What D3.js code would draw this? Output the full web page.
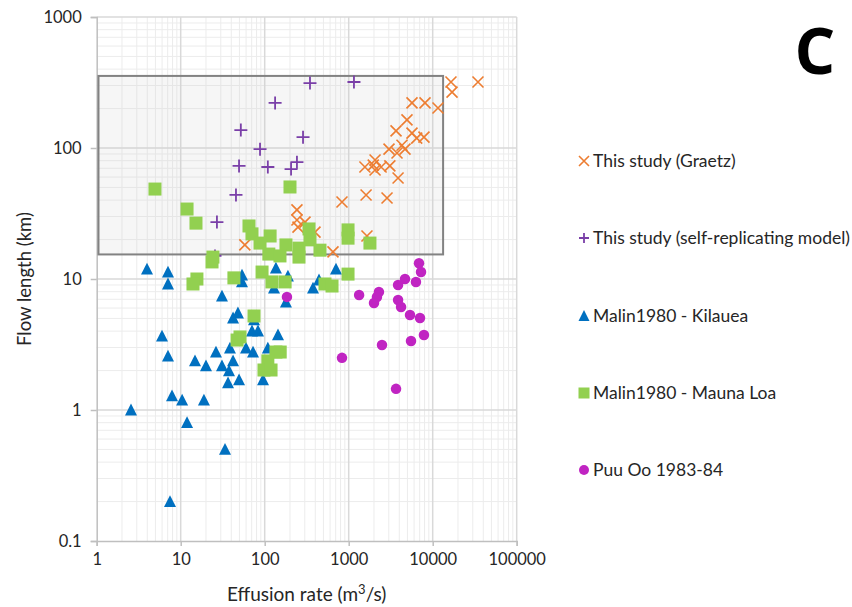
<!DOCTYPE html>
<html>
<head>
<meta charset="utf-8">
<script src="https://cdn.jsdelivr.net/npm/d3@7"></script>
<style>
  html, body { margin: 0; padding: 0; background: #ffffff; }
  svg { display: block; font-family: Lato, "Open Sans", sans-serif; }
</style>
</head>
<body>
<svg id="chart" width="852" height="607"></svg>
<script>
// Effusion rate (m^3/s) vs flow length (km), log-log.
const xTickValues = [1, 10, 100, 1000, 10000, 100000];
const xTickLabels = ["1", "10", "100", "1000", "10000", "100000"];
const yTickValues = [0.1, 1, 10, 100, 1000];
const yTickLabels = ["0.1", "1", "10", "100", "1000"];

// Shaded range of the study runs: [effusion min, max], [length min, max]
const studyBoxX = [1.05, 13300];
const studyBoxY = [15.4, 355];

// [effusion rate, flow length]
const graetz = [
  [16500, 319], [34600, 319], [17000, 267], [5670, 221], [8100, 221], [11560, 202],
  [4940, 164], [3660, 135], [5670, 130], [7870, 121], [6450, 119], [4310, 105],
  [3020, 98], [4680, 98], [3760, 91.6], [2060, 81], [1560, 71.6], [2430, 71.6],
  [3090, 73], [1960, 74], [2060, 68], [3870, 59], [832, 38.7], [1610, 43.8],
  [2860, 41.5], [242, 33.7], [242, 28.2], [302, 27.2], [249, 24.9], [397, 22.8],
  [1650, 21.3], [650, 16.1], [58, 18.2]
];
const selfReplicating = [
  [346, 313], [1155, 319], [133, 221], [52, 137], [286, 121], [88, 98],
  [49.5, 73], [109, 71.6], [242, 78], [206, 69], [45.5, 43.8], [27, 27.2], [25.6, 15]
];
const kilauea = [
  [3.97, 11.9], [7.06, 11.3], [7.06, 9.16], [31, 7.41], [5.99, 3.67], [7.06, 2.58],
  [14.8, 2.37], [20, 2.17], [26.3, 2.77], [31, 2.17], [7.88, 1.28], [10.4, 1.19],
  [18.9, 1.19], [2.56, 1.0], [11.9, 0.8], [33.7, 0.5], [7.46, 0.2], [53.7, 10.7],
  [53.7, 9.5], [136, 12.1], [189, 10.5], [129, 8.53], [179, 6.67], [376, 8.53],
  [443, 9.83], [706, 11.9], [48, 5.5], [42, 5.04], [74.6, 4.87], [70.6, 4.01],
  [83.3, 4.01], [144, 3.74], [38.6, 2.97], [59.9, 2.97], [72.6, 2.77], [109, 2.97],
  [42, 2.37], [37.6, 1.99], [49.5, 1.7], [36.6, 1.61], [95.5, 1.7]
];
const maunaLoa = [
  [4.94, 48.6], [11.9, 34.2], [15.2, 26.7], [200, 50.4], [65, 25.4], [70.6, 22.1],
  [116, 21.3], [88, 18.8], [179, 18.2], [337, 24.1], [346, 19.9], [256, 17.2],
  [455, 16.6], [112, 15.5], [152, 15.0], [256, 14.7], [24.2, 14.7], [23.6, 13.5],
  [982, 23.7], [982, 20.5], [1790, 18.8], [982, 10.9], [522, 9.16], [633, 8.84],
  [93, 11.3], [43, 10.2], [122, 9.5], [175, 9.5], [15.6, 10], [14, 9.16],
  [74.6, 5.22], [50.8, 3.61], [46.9, 3.42], [136, 2.77], [153, 2.77], [109, 2.37],
  [98, 2.02], [119, 2.02]
];
const puuOo = [
  [6870, 13.2], [7260, 11.3], [4680, 10], [6320, 9.5], [3870, 9.0], [1330, 7.55],
  [2290, 7.96], [2170, 7.29], [2000, 6.56], [3870, 6.92], [4200, 6.11], [5370, 5.31],
  [7060, 5.04], [7870, 3.74], [5520, 3.36], [2490, 3.13], [832, 2.5], [3660, 1.45],
  [184, 7.3]
];

const seriesNames = [
  "This study (Graetz)",
  "This study (self-replicating model)",
  "Malin1980 - Kilauea",
  "Malin1980 - Mauna Loa",
  "Puu Oo 1983-84"
];
const seriesColors = ["#ed7d31", "#7a3fa8", "#0070c0", "#92d050", "#c024c2"];
const seriesShapes = ["cross", "plus", "triangle", "square", "circle"];
const seriesData = [graetz, selfReplicating, kilauea, maunaLoa, puuOo];

const svg = d3.select("#chart");
const plot = { left: 96.7, right: 516.7, top: 17, bottom: 541 };

const x = d3.scaleLog().domain([1, 100000]).range([plot.left, plot.right]);
const y = d3.scaleLog().domain([0.1, 1000]).range([plot.bottom, plot.top]);

// Minor and major grid lines
function gridValues(lo, hi) {
  const minor = [], major = [];
  for (let d = lo; d < hi; d *= 10) {
    major.push(d);
    for (let k = 2; k <= 9; k++) minor.push(d * k);
  }
  major.push(hi);
  return { minor, major };
}
const gx = gridValues(1, 100000);
const gy = gridValues(0.1, 1000);
const grid = svg.append("g");
grid.selectAll(".vmin").data(gx.minor).join("line")
  .attr("x1", d => x(d)).attr("x2", d => x(d))
  .attr("y1", plot.top).attr("y2", plot.bottom)
  .attr("stroke", "#ececec").attr("stroke-width", 1);
grid.selectAll(".hmin").data(gy.minor).join("line")
  .attr("x1", plot.left).attr("x2", plot.right)
  .attr("y1", d => y(d)).attr("y2", d => y(d))
  .attr("stroke", "#ececec").attr("stroke-width", 1);
grid.selectAll(".vmaj").data(gx.major.slice(1)).join("line")
  .attr("x1", d => x(d)).attr("x2", d => x(d))
  .attr("y1", plot.top).attr("y2", plot.bottom)
  .attr("stroke", "#d9d9d9").attr("stroke-width", 1.5);
grid.selectAll(".hmaj").data(gy.major.slice(1)).join("line")
  .attr("x1", plot.left).attr("x2", plot.right)
  .attr("y1", d => y(d)).attr("y2", d => y(d))
  .attr("stroke", "#d9d9d9").attr("stroke-width", 1.5);

// Axes
const xAxis = d3.axisBottom(x).tickValues(xTickValues)
  .tickFormat((d, i) => xTickLabels[i]).tickSize(5).tickPadding(7);
const yAxis = d3.axisLeft(y).tickValues(yTickValues)
  .tickFormat((d, i) => yTickLabels[i]).tickSize(6).tickPadding(9);

const gxA = svg.append("g").attr("transform", `translate(0,${plot.bottom})`).call(xAxis);
const gyA = svg.append("g").attr("transform", `translate(${plot.left},0)`).call(yAxis);
[gxA, gyA].forEach(g => {
  g.select(".domain").attr("stroke", "#bfbfbf").attr("stroke-width", 1.5);
  g.selectAll(".tick line").attr("stroke", "#bfbfbf").attr("stroke-width", 1.5);
  g.selectAll(".tick text").attr("fill", "#262626")
    .style("font-family", "Lato, 'Open Sans', sans-serif").style("font-size", "16.5px");
});

// Axis titles
svg.append("text")
  .attr("x", (plot.left + plot.right) / 2).attr("y", 601)
  .attr("text-anchor", "middle").attr("fill", "#262626")
  .style("font-size", "19px")
  .html('Effusion rate (m<tspan dy="-7" font-size="13">3</tspan><tspan dy="7">/s)</tspan>');
svg.append("text")
  .attr("transform", `translate(31,${(plot.top + plot.bottom) / 2}) rotate(-90)`)
  .attr("text-anchor", "middle").attr("fill", "#262626")
  .style("font-size", "18.5px")
  .text("Flow length (km)");

// Shaded study range
svg.append("rect")
  .attr("x", x(studyBoxX[0])).attr("y", y(studyBoxY[1]))
  .attr("width", x(studyBoxX[1]) - x(studyBoxX[0]))
  .attr("height", y(studyBoxY[0]) - y(studyBoxY[1]))
  .attr("fill", "rgba(200,200,200,0.16)")
  .attr("stroke", "#828282").attr("stroke-width", 2);

// Marker drawing
function drawMarker(g, shape, color, s) {
  if (shape === "cross") {
    const h = s / 2;
    g.append("path").attr("d", `M${-h},${-h}L${h},${h}M${-h},${h}L${h},${-h}`)
      .attr("stroke", color).attr("stroke-width", 1.6).attr("fill", "none");
  } else if (shape === "plus") {
    const h = s / 2;
    g.append("path").attr("d", `M${-h},0L${h},0M0,${-h}L0,${h}`)
      .attr("stroke", color).attr("stroke-width", 1.8).attr("fill", "none");
  } else if (shape === "triangle") {
    const w = s / 2, ht = s * 0.9;
    g.append("path").attr("d", `M0,${-ht / 2 - 1}L${w},${ht / 2}L${-w},${ht / 2}Z`)
      .attr("fill", color);
  } else if (shape === "square") {
    g.append("rect").attr("x", -s / 2).attr("y", -s / 2)
      .attr("width", s).attr("height", s).attr("fill", color);
  } else {
    g.append("circle").attr("r", s / 2).attr("fill", color);
  }
}
const plotSizes = { cross: 11, plus: 13, triangle: 12, square: 13, circle: 10.5 };
const legendSizes = { cross: 10, plus: 10, triangle: 11, square: 11, circle: 10 };

seriesData.forEach((data, si) => {
  const g = svg.append("g");
  data.forEach(([vx, vy]) => {
    const m = g.append("g").attr("transform", `translate(${x(vx)},${y(vy)})`);
    drawMarker(m, seriesShapes[si], seriesColors[si], plotSizes[seriesShapes[si]]);
  });
});

// Legend
const legendY = [161, 238, 316, 393, 470];
seriesNames.forEach((name, i) => {
  const g = svg.append("g").attr("transform", `translate(584,${legendY[i]})`);
  drawMarker(g, seriesShapes[i], seriesColors[i], legendSizes[seriesShapes[i]]);
  g.append("text").attr("x", 9).attr("y", 0).attr("dy", "0.35em")
    .attr("fill", "#262626").style("font-size", "17.5px").text(name);
});

// Panel letter
svg.append("text")
  .attr("x", 815).attr("y", 74).attr("text-anchor", "middle")
  .attr("fill", "#000000").style("font-weight", "bold")
  .style("font-family", "'Open Sans', Lato, sans-serif")
  .style("font-size", "64px").text("C");
</script>
</body>
</html>
